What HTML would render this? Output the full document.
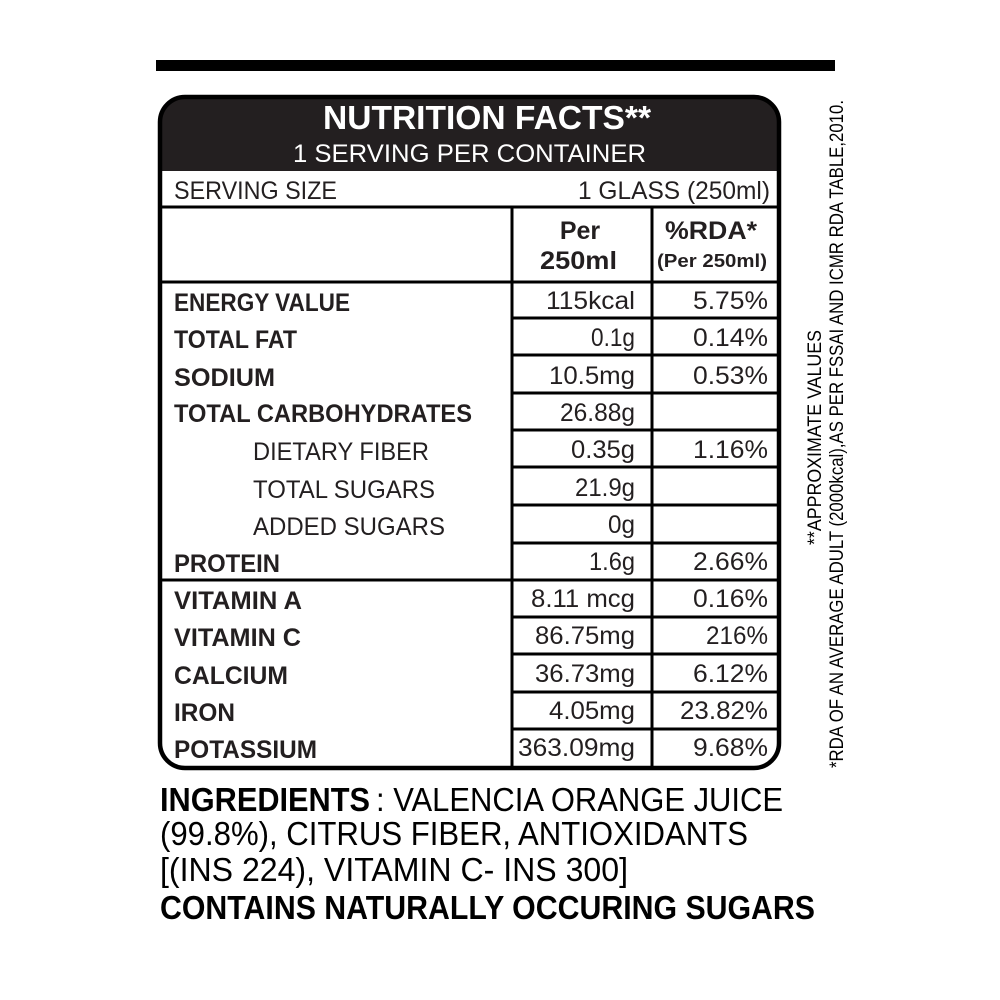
<!DOCTYPE html>
<html><head><meta charset="utf-8"><style>html,body{margin:0;padding:0;background:#fff}svg{display:block}</style></head>
<body>
<svg width="1000" height="1000" viewBox="0 0 1000 1000" xmlns="http://www.w3.org/2000/svg" font-family="Liberation Sans, sans-serif" fill="#231f20">
<rect width="1000" height="1000" fill="#fff"/>
<rect x="156" y="60" width="679" height="11" fill="#000"/>
<path d="M160,171 V122 Q160,97 185,97 H754 Q779,97 779,122 V171 Z" fill="#231f20"/>
<rect x="160" y="97" width="619" height="671" rx="25" ry="25" fill="none" stroke="#000" stroke-width="4.5"/>
<text x="323" y="129" font-size="33" font-weight="bold" fill="#fff" textLength="328" lengthAdjust="spacingAndGlyphs">NUTRITION FACTS**</text>
<text x="293" y="162" font-size="25" fill="#fff" textLength="353" lengthAdjust="spacingAndGlyphs">1 SERVING PER CONTAINER</text>
<g stroke="#000" stroke-width="3" fill="none">
<line x1="160" y1="207" x2="779" y2="207"/>
<line x1="160" y1="282" x2="779" y2="282"/>
<line x1="160" y1="580" x2="779" y2="580"/>
<line x1="512" y1="207" x2="512" y2="768"/>
<line x1="652" y1="207" x2="652" y2="768"/>
<path d="M512,318H779M512,355H779M512,393H779M512,430H779M512,467H779M512,505H779M512,543H779M512,617H779M512,654H779M512,692H779M512,729H779"/>
</g>
<g font-size="25">
<text x="174" y="199" textLength="163" lengthAdjust="spacingAndGlyphs">SERVING SIZE</text>
<text x="578" y="199" textLength="192" lengthAdjust="spacingAndGlyphs">1 GLASS (250ml)</text>
</g>
<g font-weight="bold" font-size="25">
<text x="580" y="239" text-anchor="middle">Per</text>
<text x="540" y="269" textLength="77" lengthAdjust="spacingAndGlyphs">250ml</text>
<text x="665" y="239" textLength="92" lengthAdjust="spacingAndGlyphs">%RDA*</text>
<text x="657" y="267" font-size="18" textLength="110" lengthAdjust="spacingAndGlyphs">(Per 250ml)</text>
</g>
<g font-weight="bold" font-size="25">
<text x="174" y="311" textLength="176" lengthAdjust="spacingAndGlyphs">ENERGY VALUE</text>
<text x="174" y="348" textLength="123" lengthAdjust="spacingAndGlyphs">TOTAL FAT</text>
<text x="174" y="386" textLength="101" lengthAdjust="spacingAndGlyphs">SODIUM</text>
<text x="174" y="422" textLength="298" lengthAdjust="spacingAndGlyphs">TOTAL CARBOHYDRATES</text>
<text x="174" y="572" textLength="106" lengthAdjust="spacingAndGlyphs">PROTEIN</text>
<text x="174" y="609" textLength="128" lengthAdjust="spacingAndGlyphs">VITAMIN A</text>
<text x="174" y="646" textLength="127" lengthAdjust="spacingAndGlyphs">VITAMIN C</text>
<text x="174" y="684" textLength="114" lengthAdjust="spacingAndGlyphs">CALCIUM</text>
<text x="174" y="721" textLength="61" lengthAdjust="spacingAndGlyphs">IRON</text>
<text x="174" y="758" textLength="143" lengthAdjust="spacingAndGlyphs">POTASSIUM</text>
</g>
<g font-size="25">
<text x="253" y="460" textLength="176" lengthAdjust="spacingAndGlyphs">DIETARY FIBER</text>
<text x="253" y="498" textLength="182" lengthAdjust="spacingAndGlyphs">TOTAL SUGARS</text>
<text x="253" y="535" textLength="192" lengthAdjust="spacingAndGlyphs">ADDED SUGARS</text>
</g>
<g font-size="25">
<text x="546" y="309" textLength="89" lengthAdjust="spacingAndGlyphs">115kcal</text>
<text x="591" y="346" textLength="44" lengthAdjust="spacingAndGlyphs">0.1g</text>
<text x="549" y="384" textLength="86" lengthAdjust="spacingAndGlyphs">10.5mg</text>
<text x="560" y="421" textLength="75" lengthAdjust="spacingAndGlyphs">26.88g</text>
<text x="571" y="458" textLength="64" lengthAdjust="spacingAndGlyphs">0.35g</text>
<text x="575" y="496" textLength="60" lengthAdjust="spacingAndGlyphs">21.9g</text>
<text x="608" y="533" textLength="27" lengthAdjust="spacingAndGlyphs">0g</text>
<text x="589" y="570" textLength="46" lengthAdjust="spacingAndGlyphs">1.6g</text>
<text x="531" y="607" textLength="104" lengthAdjust="spacingAndGlyphs">8.11 mcg</text>
<text x="535" y="644" textLength="100" lengthAdjust="spacingAndGlyphs">86.75mg</text>
<text x="535" y="682" textLength="100" lengthAdjust="spacingAndGlyphs">36.73mg</text>
<text x="549" y="719" textLength="86" lengthAdjust="spacingAndGlyphs">4.05mg</text>
<text x="518" y="756" textLength="117" lengthAdjust="spacingAndGlyphs">363.09mg</text>
<text x="693" y="309" textLength="75" lengthAdjust="spacingAndGlyphs">5.75%</text>
<text x="693" y="346" textLength="75" lengthAdjust="spacingAndGlyphs">0.14%</text>
<text x="693" y="384" textLength="75" lengthAdjust="spacingAndGlyphs">0.53%</text>
<text x="693" y="458" textLength="75" lengthAdjust="spacingAndGlyphs">1.16%</text>
<text x="693" y="570" textLength="75" lengthAdjust="spacingAndGlyphs">2.66%</text>
<text x="693" y="607" textLength="75" lengthAdjust="spacingAndGlyphs">0.16%</text>
<text x="706" y="644" textLength="62" lengthAdjust="spacingAndGlyphs">216%</text>
<text x="693" y="682" textLength="75" lengthAdjust="spacingAndGlyphs">6.12%</text>
<text x="680" y="719" textLength="88" lengthAdjust="spacingAndGlyphs">23.82%</text>
<text x="693" y="756" textLength="75" lengthAdjust="spacingAndGlyphs">9.68%</text>
</g>
<g font-size="33" fill="#000">
<text x="160" y="811" font-weight="bold" textLength="210" lengthAdjust="spacingAndGlyphs">INGREDIENTS</text>
<text x="376" y="811" textLength="407" lengthAdjust="spacingAndGlyphs">: VALENCIA ORANGE JUICE</text>
<text x="160" y="845" textLength="588" lengthAdjust="spacingAndGlyphs">(99.8%), CITRUS FIBER, ANTIOXIDANTS</text>
<text x="160" y="881" textLength="468" lengthAdjust="spacingAndGlyphs">[(INS 224), VITAMIN C- INS 300]</text>
<text x="160" y="919" font-weight="bold" textLength="655" lengthAdjust="spacingAndGlyphs">CONTAINS NATURALLY OCCURING SUGARS</text>
</g>
<g font-size="19" fill="#000">
<text transform="translate(821,545) rotate(-90)" textLength="215" lengthAdjust="spacingAndGlyphs">**APPROXIMATE VALUES</text>
<text transform="translate(843,768) rotate(-90)" textLength="668" lengthAdjust="spacingAndGlyphs">*RDA OF AN AVERAGE ADULT (2000kcal),AS PER FSSAI AND ICMR RDA TABLE,2010.</text>
</g>
</svg>
</body></html>
